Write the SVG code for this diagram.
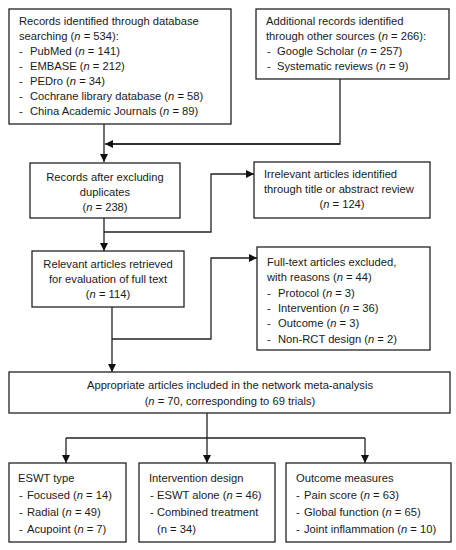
<svg xmlns="http://www.w3.org/2000/svg" width="456" height="550" viewBox="0 0 456 550">
<defs>
<marker id="ah" viewBox="0 0 8 8" refX="8" refY="4" markerWidth="8" markerHeight="8" markerUnits="userSpaceOnUse" orient="auto">
<path d="M0,0 L8,4 L0,8 Z" fill="#111"/>
</marker>
<style>
.box{fill:#fff;stroke:#222;stroke-width:1.3}
.ln{fill:none;stroke:#222;stroke-width:1.3}
.ar{fill:none;stroke:#222;stroke-width:1.3;marker-end:url(#ah)}
text{font-family:"Liberation Sans",Arial,sans-serif;font-size:11.2px;fill:#1a1a1a}
.c{text-anchor:middle}
.i{font-style:italic}
</style>
</defs>
<rect width="456" height="550" fill="#fff"/>
<g id="connectors">
<path class="ar" d="M104,124 V162"/>
<path class="ln" d="M340,79 V144 H112"/>
<path class="ar" d="M340,144 H105"/>
<path class="ar" d="M104,218 V251"/>
<path class="ar" d="M104,232 H211 V174 H254"/>
<path class="ar" d="M112,307 V372"/>
<path class="ar" d="M112,339 H211 V258 H257"/>
<path class="ar" d="M207,413 V463"/>
<path class="ln" d="M66,438 H365"/>
<path class="ar" d="M66,438 V463"/>
<path class="ar" d="M365,438 V463"/>
</g>
<g id="db">
<rect class="box" x="9" y="9" width="222" height="115"/>
<text x="19" y="25">Records identified through database</text>
<text x="19" y="40">searching (<tspan class="i">n</tspan> = 534):</text>
<text x="19" y="55">-</text><text x="30" y="55">PubMed (<tspan class="i">n</tspan> = 141)</text>
<text x="19" y="70">-</text><text x="30" y="70">EMBASE (<tspan class="i">n</tspan> = 212)</text>
<text x="19" y="85">-</text><text x="30" y="85">PEDro (<tspan class="i">n</tspan> = 34)</text>
<text x="19" y="100">-</text><text x="30" y="100">Cochrane library database (<tspan class="i">n</tspan> = 58)</text>
<text x="19" y="115">-</text><text x="30" y="115">China Academic Journals (<tspan class="i">n</tspan> = 89)</text>
</g>
<g id="other">
<rect class="box" x="256" y="9" width="193" height="70"/>
<text x="266" y="25">Additional records identified</text>
<text x="266" y="40">through other sources (<tspan class="i">n</tspan> = 266):</text>
<text x="267" y="55">-</text><text x="277" y="55">Google Scholar (<tspan class="i">n</tspan> = 257)</text>
<text x="267" y="70">-</text><text x="277" y="70">Systematic reviews (<tspan class="i">n</tspan> = 9)</text>
</g>
<g id="dedup">
<rect class="box" x="30" y="163" width="150" height="55"/>
<text class="c" x="105" y="181">Records after excluding</text>
<text class="c" x="105" y="196">duplicates</text>
<text class="c" x="105" y="211">(<tspan class="i">n</tspan> = 238)</text>
</g>
<g id="irrelevant">
<rect class="box" x="254" y="162" width="176" height="56"/>
<text x="264" y="178">Irrelevant articles identified</text>
<text x="264" y="193">through title or abstract review</text>
<text class="c" x="342" y="208">(<tspan class="i">n</tspan> = 124)</text>
</g>
<g id="fulltext">
<rect class="box" x="32" y="251" width="152" height="56"/>
<text class="c" x="108" y="268">Relevant articles retrieved</text>
<text class="c" x="108" y="283">for evaluation of full text</text>
<text class="c" x="108" y="298">(<tspan class="i">n</tspan> = 114)</text>
</g>
<g id="excluded">
<rect class="box" x="257" y="247" width="173" height="103"/>
<text x="267" y="266">Full-text articles excluded,</text>
<text x="267" y="281">with reasons (<tspan class="i">n</tspan> = 44)</text>
<text x="267" y="297">-</text><text x="278" y="297">Protocol (<tspan class="i">n</tspan> = 3)</text>
<text x="267" y="312">-</text><text x="278" y="312">Intervention (<tspan class="i">n</tspan> = 36)</text>
<text x="267" y="327">-</text><text x="278" y="327">Outcome (<tspan class="i">n</tspan> = 3)</text>
<text x="267" y="343">-</text><text x="278" y="343">Non-RCT design (<tspan class="i">n</tspan> = 2)</text>
</g>
<g id="included">
<rect class="box" x="9" y="372" width="441" height="41"/>
<text class="c" x="230" y="389">Appropriate articles included in the network meta-analysis</text>
<text class="c" x="230" y="405">(<tspan class="i">n</tspan> = 70, corresponding to 69 trials)</text>
</g>
<g id="eswt">
<rect class="box" x="9" y="463" width="117" height="79"/>
<text x="18" y="482">ESWT type</text>
<text x="19" y="499">-</text><text x="27" y="499">Focused (<tspan class="i">n</tspan> = 14)</text>
<text x="19" y="516">-</text><text x="27" y="516">Radial (<tspan class="i">n</tspan> = 49)</text>
<text x="19" y="533">-</text><text x="27" y="533">Acupoint (<tspan class="i">n</tspan> = 7)</text>
</g>
<g id="design">
<rect class="box" x="139" y="463" width="136" height="79"/>
<text x="149" y="482">Intervention design</text>
<text x="150" y="499">-</text><text x="157" y="499">ESWT alone (<tspan class="i">n</tspan> = 46)</text>
<text x="150" y="516">-</text><text x="157" y="516">Combined treatment</text>
<text x="157" y="533">(n = 34)</text>
</g>
<g id="outcome">
<rect class="box" x="286" y="463" width="165" height="79"/>
<text x="296" y="482">Outcome measures</text>
<text x="296" y="499">-</text><text x="304" y="499">Pain score (<tspan class="i">n</tspan> = 63)</text>
<text x="296" y="516">-</text><text x="304" y="516">Global function (<tspan class="i">n</tspan> = 65)</text>
<text x="296" y="533">-</text><text x="304" y="533">Joint inflammation (<tspan class="i">n</tspan> = 10)</text>
</g>
</svg>
